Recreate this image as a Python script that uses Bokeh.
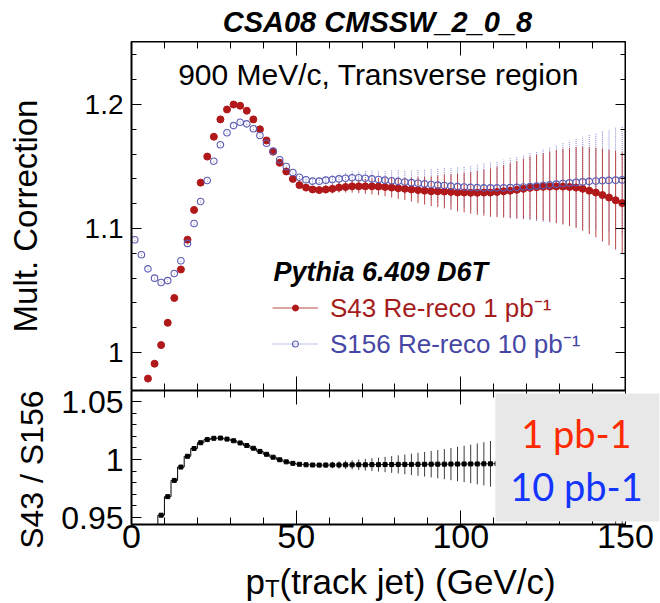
from bokeh.plotting import figure
from bokeh.models import (Range1d, LinearAxis, SingleIntervalTicker, CustomJSTickFormatter,
                          Label, Legend, LegendItem, BoxAnnotation, ColumnDataSource, Title)
from bokeh.core.properties import value
from bokeh.layouts import column
from bokeh.embed import file_html
from bokeh.resources import INLINE

# ---------------- data ----------------
pt_bins = list(range(1, 150, 2))  # bin centres, GeV/c

s43 = [0.955, 0.967, 0.979, 0.991, 1.006, 1.024, 1.044, 1.067, 1.091, 1.115,
       1.137, 1.158, 1.174, 1.188, 1.196, 1.200, 1.199, 1.195, 1.188, 1.180,
       1.171, 1.162, 1.153, 1.146, 1.140, 1.135, 1.133, 1.1315, 1.131, 1.1315,
       1.132, 1.133, 1.1335, 1.134, 1.134, 1.134, 1.134, 1.1338, 1.1335, 1.133,
       1.1325, 1.132, 1.1315, 1.131, 1.1305, 1.130, 1.130, 1.1298, 1.1295, 1.129,
       1.129, 1.1288, 1.1288, 1.129, 1.129, 1.1295, 1.130, 1.1305, 1.1312, 1.132,
       1.1328, 1.1333, 1.1336, 1.1338, 1.1339, 1.1338, 1.1335, 1.133, 1.132, 1.1305,
       1.129, 1.127, 1.125, 1.1228, 1.1205]
s43_err = [0.001] * 25 + [
       0.0015, 0.002, 0.0025, 0.003, 0.0033, 0.0037, 0.004, 0.0045, 0.005, 0.0055,
       0.006, 0.0065, 0.007, 0.0075, 0.008, 0.0085, 0.009, 0.0098, 0.0105, 0.0112,
       0.012, 0.0128, 0.0136, 0.0144, 0.0152, 0.016, 0.0168, 0.0177, 0.0186, 0.0195,
       0.0204, 0.0213, 0.0222, 0.0232, 0.0242, 0.0252, 0.0262, 0.0272, 0.0283, 0.0294,
       0.0305, 0.0316, 0.0327, 0.0338, 0.035, 0.0362, 0.0374, 0.0386, 0.0398, 0.041]

s156 = [1.091, 1.0788, 1.0675, 1.060, 1.0565, 1.058, 1.0637, 1.074, 1.088, 1.104,
        1.1218, 1.1387, 1.1543, 1.1675, 1.1772, 1.183, 1.1857, 1.1844, 1.1804, 1.175,
        1.1688, 1.1624, 1.1554, 1.150, 1.1452, 1.1414, 1.1393, 1.1382, 1.1382, 1.139,
        1.1395, 1.140, 1.1405, 1.141, 1.141, 1.1405, 1.140, 1.1395, 1.139, 1.1385,
        1.138, 1.1375, 1.137, 1.1365, 1.136, 1.1355, 1.135, 1.1347, 1.1342, 1.1338,
        1.1335, 1.1332, 1.133, 1.1328, 1.1328, 1.1328, 1.1328, 1.133, 1.1332, 1.1335,
        1.1338, 1.1342, 1.1347, 1.1352, 1.1358, 1.1363, 1.1368, 1.1372, 1.1376, 1.138,
        1.1383, 1.1386, 1.1388, 1.139, 1.1392]
s156_err = [0.001] * 25 + [
        0.0015, 0.002, 0.0025, 0.003, 0.0034, 0.0038, 0.0042, 0.0047, 0.0052, 0.0057,
        0.0062, 0.0068, 0.0074, 0.008, 0.0086, 0.0092, 0.0098, 0.0105, 0.0112, 0.0119,
        0.0127, 0.0135, 0.0143, 0.0151, 0.016, 0.0169, 0.0178, 0.0187, 0.0197, 0.0207,
        0.0217, 0.0227, 0.0237, 0.0248, 0.0259, 0.027, 0.0281, 0.0292, 0.0304, 0.0316,
        0.0328, 0.034, 0.0352, 0.0364, 0.0376, 0.0388, 0.04, 0.0412, 0.0424, 0.0436]

ratio = [0.875, 0.896, 0.917, 0.935, 0.952, 0.968, 0.982, 0.9935, 1.0028, 1.0095,
         1.0145, 1.0172, 1.0183, 1.0185, 1.0176, 1.0162, 1.0143, 1.0121, 1.0097, 1.0070,
         1.0045, 1.0020, 0.9998, 0.9980, 0.9967, 0.9959, 0.9955, 0.9953, 0.9952, 0.9952,
         0.9953, 0.9953, 0.9954, 0.9954, 0.9955, 0.9955, 0.9956, 0.9956, 0.9957, 0.9957,
         0.9958, 0.9958, 0.9958, 0.9959, 0.9959, 0.9960, 0.9960, 0.9960, 0.9961, 0.9961,
         0.9962, 0.9962, 0.9962, 0.9963, 0.9963, 0.9964, 0.9965, 0.9966, 0.9968, 0.9970,
         0.9972, 0.9975, 0.9978, 0.9980, 0.9982, 0.9983, 0.9983, 0.9982, 0.9980, 0.9975,
         0.9968, 0.9958, 0.9945, 0.9930, 0.9915]
ratio_err = [0.0005] * 25 + [
         0.001, 0.0013, 0.0016, 0.002, 0.0024, 0.0028, 0.0032, 0.0036, 0.004, 0.0045,
         0.005, 0.0055, 0.006, 0.0066, 0.0072, 0.0078, 0.0085, 0.0092, 0.0099, 0.0106,
         0.0114, 0.0122, 0.013, 0.0139, 0.0148, 0.0157, 0.0166, 0.0176, 0.0186, 0.0197,
         0.0208, 0.022, 0.0232, 0.0245, 0.0258, 0.0272, 0.0286, 0.03, 0.0315, 0.033,
         0.0346, 0.0362, 0.0378, 0.0395, 0.0412, 0.043, 0.0448, 0.0466, 0.0485, 0.0505]

FONT = "Liberation Sans"

src = ColumnDataSource(dict(
    x=pt_bins,
    s43=s43, s43_lo=[v - e for v, e in zip(s43, s43_err)], s43_hi=[v + e for v, e in zip(s43, s43_err)],
    s156=s156, s156_lo=[v - e for v, e in zip(s156, s156_err)], s156_hi=[v + e for v, e in zip(s156, s156_err)],
    ratio=ratio, r_lo=[v - e for v, e in zip(ratio, ratio_err)], r_hi=[v + e for v, e in zip(ratio, ratio_err)],
))

W = 660
LEFT = 131


def axis(fig, side, ticker, maj_in, min_in, labels=False, label_size="28px",
         standoff=8, title=None, title_size="32px", title_standoff=10, bounds=None, lw=2):
    ax = LinearAxis(ticker=ticker)
    if bounds is not None:
        ax.bounds = bounds
    ax.axis_line_color = "black"
    ax.axis_line_width = lw
    ax.major_tick_in = maj_in
    ax.major_tick_out = 0
    ax.minor_tick_in = min_in
    ax.minor_tick_out = 0
    ax.major_tick_line_color = "black"
    ax.minor_tick_line_color = "black"
    ax.major_tick_line_width = 1
    ax.minor_tick_line_width = 1
    if labels:
        ax.formatter = CustomJSTickFormatter(code="return Number(tick.toFixed(3)).toString();")
        ax.major_label_text_font = FONT
        ax.major_label_text_font_size = label_size
        ax.major_label_text_color = "black"
        ax.major_label_standoff = standoff
    else:
        ax.formatter = CustomJSTickFormatter(code="return '';")
        ax.major_label_text_font_size = "0px"
        ax.major_label_standoff = 0
    if title is not None:
        ax.axis_label = title
        ax.axis_label_text_font = FONT
        ax.axis_label_text_font_size = title_size
        ax.axis_label_text_font_style = "normal"
        ax.axis_label_text_color = "black"
        ax.axis_label_standoff = title_standoff
    fig.add_layout(ax, side)
    return ax


def label(fig, x, y, text, size, font=FONT, style="normal", align="left", color="black"):
    fig.add_layout(Label(x=x, y=y, text=text, text_align=align, text_baseline="alphabetic",
                         text_font=font, text_font_size=size, text_font_style=style,
                         text_color=color))


def strip(height):
    # plain text strip; its x data coordinates equal page pixels
    f = figure(width=W, height=height, x_range=Range1d(LEFT, W - 1), y_range=Range1d(0, height),
               output_backend="svg", toolbar_location=None,
               x_axis_location=None, y_axis_location=None,
               min_border_left=LEFT, min_border_right=1, min_border_top=0, min_border_bottom=0)
    f.outline_line_color = None
    f.xgrid.visible = False
    f.ygrid.visible = False
    return f


# ---------------- title strip ----------------
tfig = strip(41)
label(tfig, 377, 19.5, "CSA08 CMSSW_2_0_8", "29px", style="bold italic", align="center")

# ---------------- top panel ----------------
top = figure(width=626, height=349, x_range=Range1d(0, 150), y_range=Range1d(0.9694, 1.2508),
             output_backend="svg", toolbar_location=None,
             x_axis_location=None, y_axis_location=None,
             min_border_left=LEFT, min_border_right=1, min_border_top=0, min_border_bottom=0)
top.outline_line_color = None
top.xgrid.visible = False
top.ygrid.visible = False

axis(top, "left", SingleIntervalTicker(interval=0.1, num_minor_ticks=5), 10, 5, labels=True,
     label_size="28px", standoff=8, title="Mult. Correction", title_size="33px", title_standoff=38)
axis(top, "right", SingleIntervalTicker(interval=0.1, num_minor_ticks=5), 10, 5)
axis(top, "above", SingleIntervalTicker(interval=50, num_minor_ticks=5), 14, 7)
axis(top, "below", SingleIntervalTicker(interval=50, num_minor_ticks=5), 14, 7)

blue_err = top.segment(x0="x", y0="s156_lo", x1="x", y1="s156_hi", source=src,
                       line_color="#8484d4", line_width=1, line_dash="1 1")
red_err = top.segment(x0="x", y0="s43_lo", x1="x", y1="s43_hi", source=src,
                      line_color="#bb4646", line_width=1)
red_pts = top.scatter(x="x", y="s43", source=src, marker="circle", size=7,
                      fill_color="#b0181a", line_color="#b0181a")
blue_pts = top.scatter(x="x", y="s156", source=src, marker="circle", size=6.5,
                       fill_alpha=0, line_color="#5c5cb4", line_width=1.1)

leg_common = dict(background_fill_alpha=0, border_line_alpha=0, padding=0, margin=0,
                  spacing=0, glyph_width=46, glyph_height=15, label_standoff=12,
                  label_text_font=FONT, label_text_font_size="26px", label_height=20)
leg1 = Legend(items=[LegendItem(label=value("S43 Re-reco 1 pb\u207b\u00b9"), renderers=[red_err, red_pts])],
              location=(141, 65), label_text_color="#a51c1c", **leg_common)
leg2 = Legend(items=[LegendItem(label=value("S156 Re-reco 10 pb\u207b\u00b9"), renderers=[blue_err, blue_pts])],
              location=(141, 29), label_text_color="#4646a6", **leg_common)
top.add_layout(leg1)
top.add_layout(leg2)

label(top, 75.0, 1.2240, "900 MeV/c, Transverse region", "30px", align="center")
label(top, 43.1, 1.0652, "Pythia 6.409 D6T", "27px", style="bold italic")

# ---------------- bottom (ratio) panel ----------------
bot = figure(width=W, height=172, x_range=Range1d(0, 160.33), y_range=Range1d(0.944, 1.0595),
             output_backend="svg", toolbar_location=None,
             x_axis_location=None, y_axis_location=None,
             min_border_left=LEFT, min_border_right=1, min_border_top=0, min_border_bottom=38)
bot.outline_line_color = None
bot.xgrid.visible = False
bot.ygrid.visible = False

axis(bot, "left", SingleIntervalTicker(interval=0.05, num_minor_ticks=5), 10, 5, labels=True,
     label_size="32px", standoff=8)
axis(bot, "above", SingleIntervalTicker(interval=50, num_minor_ticks=5), 14, 7, bounds=(0, 150))
axis(bot, "below", SingleIntervalTicker(interval=50, num_minor_ticks=5), 14, 7, labels=True,
     label_size="34px", standoff=0, bounds=(0, 150))
bot.add_layout(Title(text="S43 / S156", align="right", text_font=FONT, text_font_size="32px",
                     text_font_style="normal", text_color="black", standoff=17), "left")

bot.step(x="x", y="ratio", source=src, mode="center", line_color="black", line_width=1)
bot.segment(x0="x", y0="r_lo", x1="x", y1="r_hi", source=src, line_color="#3a3a3a", line_width=1)
bot.scatter(x="x", y="ratio", source=src, marker="square", size=4, fill_color="black",
            line_color="black")

bot.add_layout(BoxAnnotation(left=110.5, right=160.33, top=1.0569, bottom=0.9466,
                             fill_color="#e8e8e8", fill_alpha=1, line_color=None))
label(bot, 135.1, 1.0225, "1 pb-1", "38px", font="Lato", align="center", color="#ff2a00")
label(bot, 135.1, 0.9770, "10 pb-1", "38px", font="Lato", align="center", color="#1434ff")

# ---------------- x-axis title strip (p_T with subscript) ----------------
xfig = strip(41)
label(xfig, 245, 22, "p", "35px")
label(xfig, 264.5, 15.5, "T", "24px")
label(xfig, 279, 22, "(track jet) (GeV/c)", "35px")

layout = column(tfig, top, bot, xfig, spacing=0)
open("out.html", "w").write(file_html(layout, INLINE))
